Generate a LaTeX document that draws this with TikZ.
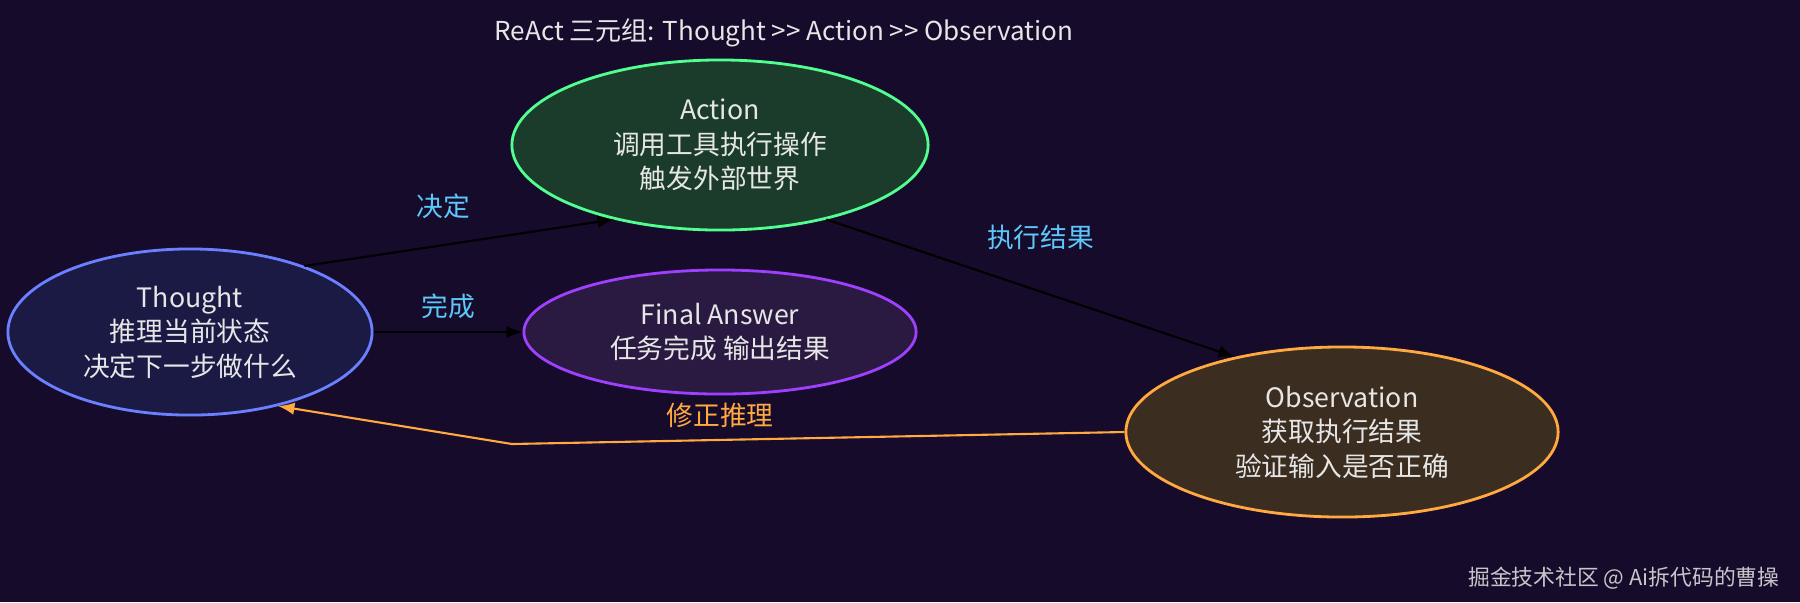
\documentclass[tikz,border=0pt]{standalone}
\usepackage{fontspec}
\setmainfont{Noto Sans CJK SC}
\usetikzlibrary{positioning, shapes.geometric}
\definecolor{bg}{HTML}{170B2C}
\definecolor{txt}{HTML}{E6E6E6}
\definecolor{lblue}{HTML}{5CC8FA}
\definecolor{lorange}{HTML}{FFA940}
\definecolor{thoughtfill}{HTML}{1B1A45}
\definecolor{thoughtline}{HTML}{6B80FF}
\definecolor{actionfill}{HTML}{1B3C2B}
\definecolor{actionline}{HTML}{50FF90}
\definecolor{finalfill}{HTML}{2A1A42}
\definecolor{finalline}{HTML}{A040FF}
\definecolor{obsfill}{HTML}{3B2E20}
\tikzset{
    state/.style = {draw, ellipse, thick, align=center, text=txt, font=\fontsize{7.6}{9.8}\selectfont},
    tip/.style = {semithick, ->, >=latex},
    lbl/.style = {font=\fontsize{7.6}{9}\selectfont, text=lblue}
}
\begin{document}
\begin{tikzpicture}[x=0.01cm, y=-0.01cm]
        \fill[bg] (0,0) rectangle (1800,602);
        \useasboundingbox (0,0) rectangle (1800,602);
        \node[text=txt, font=\fontsize{7.4}{9}\selectfont] (title) at (784,33) {ReAct 三元组: Thought {>}{>} Action {>}{>} Observation};
        \node[state, draw=thoughtline, fill=thoughtfill, minimum width=3.64cm, minimum height=1.66cm] (thought) at (190,332) {Thought\\推理当前状态\\决定下一步做什么};
        \node[state, draw=actionline, fill=actionfill, minimum width=4.16cm, minimum height=1.7cm] (action) at (720,145) {Action\\调用工具执行操作\\触发外部世界};
        \node[state, draw=finalline, fill=finalfill, minimum width=3.92cm, minimum height=1.24cm] (final) at (720,332) {Final Answer\\任务完成 输出结果};
        \node[state, draw=lorange, fill=obsfill, minimum width=4.32cm, minimum height=1.7cm] (obs) at (1342,432) {Observation\\获取执行结果\\验证输入是否正确};
        \node[text=txt!85!bg, font=\fontsize{6.2}{8}\selectfont, anchor=east] (mark) at (1792,578) {掘金技术社区 @ Ai拆代码的曹操};
        % arrows
        \draw[tip] (thought.30) -- node[lbl, above=4pt, pos=0.45] {决定} (action.-145);
        \draw[tip] (thought.east) -- node[lbl, above] {完成} (final.west);
        \draw[tip] (action.-35) -- node[lbl, above right=2pt, pos=0.35] {执行结果} (obs.145);
        \coordinate (bend) at (512,444);
        \draw[tip, lorange] (obs.west) -- node[lbl, text=lorange, above, pos=0.66] {修正推理} (bend) -- (thought.-40);
    \end{tikzpicture}
\end{document}
